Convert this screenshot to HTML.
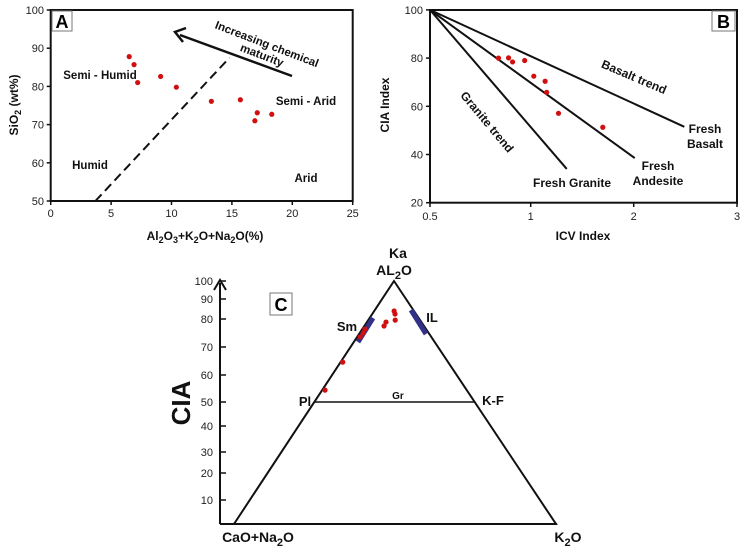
<!DOCTYPE html>
<html><head><meta charset="utf-8"><style>
html,body{margin:0;padding:0;background:#fff;}
svg{display:block;font-family:"Liberation Sans",Arial,sans-serif;}
.t{font-size:11px;fill:#222;}
.b{font-weight:bold;fill:#111;}
</style></head><body>
<svg id="svg" width="744" height="556" viewBox="0 0 744 556">
<g id="A"></g>
<g id="B"></g>
<g id="C"></g>
</svg>
<script>
// Panel A data
const aX = [6.5,6.9,7.2,9.1,10.4,13.3,15.7,17.1,16.9,18.3];
const aY = [87.8,85.7,81,82.6,79.8,76.1,76.5,73.1,71,72.7];
const aXTicks = [0,5,10,15,20,25];
const aYTicks = [50,60,70,80,90,100];
// Panel B data
const bX = [0.84,0.89,0.91,0.97,1.03,1.14,1.155,1.27,1.70];
const bY = [80,80.1,78.4,79,72.5,70.4,65.8,57.1,51.3];
const bXTicks = [0.5,1,2,3];
const bYTicks = [20,40,60,80,100];
const bTrendEnds = {basalt:[2.49,51.5], andesite:[2.01,38.5], granite:[1.35,34]};
// Panel C data (CIA value, fractional position across triangle)
const cCIA = [54.4,64.6,73.6,75,76.4,77.5,78.9,84,82.5,79.6];
const cFrac = [0.02,0.02,0.04,0.05,0.04,0.33,0.35,0.5,0.52,0.52];
const cTicks = [10,20,30,40,50,60,70,80,90,100];

const NS='http://www.w3.org/2000/svg';
function mk(parent,tag,attrs,text){const e=document.createElementNS(NS,tag);
if(attrs['class']==='b'&&attrs['font-size']===undefined)attrs['font-size']='11.5';
for(const k in attrs)e.setAttribute(k,attrs[k]);if(text!==undefined)e.textContent=text;parent.appendChild(e);return e;}

// ---------- Panel A ----------
const A=document.getElementById('A');
const ax=v=>50.7+v*12.08, ay=v=>201-(v-50)*3.82;
let e=mk(A,'rect',{x:50.7,y:10,width:302,height:191,fill:'none',stroke:'#111','stroke-width':2});

aXTicks.forEach(v=>{e=mk(A,'line',{x1:ax(v),x2:ax(v),y1:201,y2:205,stroke:'#111','stroke-width':1.5});

e=mk(A,'text',{x:ax(v),y:217,'text-anchor':'middle',class:'t'},v);
});
aYTicks.forEach(v=>{e=mk(A,'line',{x1:46.7,x2:50.7,y1:ay(v),y2:ay(v),stroke:'#111','stroke-width':1.5});

e=mk(A,'text',{x:44,y:ay(v)+4,'text-anchor':'end',class:'t'},v);
});
e=mk(A,'line',{x1:ax(3.7),y1:ay(50),x2:ax(14.8),y2:ay(87.5),stroke:'#111','stroke-width':2,'stroke-dasharray':'9,5'});

e=mk(A,'line',{x1:292,y1:76,x2:180,y2:35,stroke:'#111','stroke-width':2.5});

e=mk(A,'polyline',{points:'186,28 175,32 183,42',fill:'none',stroke:'#111','stroke-width':2.5});

aX.forEach((v,i)=>{e=mk(A,'circle',{cx:ax(v),cy:ay(aY[i]),r:2.6,fill:'#d01010'});
});
e=mk(A,'rect',{x:52,y:11,width:20,height:20,fill:'#fff',stroke:'#777','stroke-width':1});

e=mk(A,'text',{x:62,y:28,'text-anchor':'middle','font-size':'18','font-weight':'bold'},'A');

e=mk(A,'text',{x:267,y:48,'text-anchor':'middle',class:'b',transform:'rotate(21 267 44)'},'Increasing chemical');

e=mk(A,'text',{x:262,y:59,'text-anchor':'middle',class:'b',transform:'rotate(21 262 55)'},'maturity');

[['Semi - Humid',100,79],['Semi - Arid',306,105],['Humid',90,169],['Arid',306,182]].forEach(r=>{
e=mk(A,'text',{x:r[1],y:r[2],'text-anchor':'middle',class:'b'},r[0]);
});
e=mk(A,'text',{x:0,y:0,class:'b','text-anchor':'middle',transform:'translate(18 105) rotate(-90)','font-size':'12'});
e.innerHTML='SiO<tspan dy="3" font-size="9">2</tspan><tspan dy="-3"> (wt%)</tspan>';

e=mk(A,'text',{x:205,y:240,class:'b','text-anchor':'middle','font-size':'12'});
e.innerHTML='Al<tspan dy="3" font-size="9">2</tspan><tspan dy="-3">O</tspan><tspan dy="3" font-size="9">3</tspan><tspan dy="-3">+K</tspan><tspan dy="3" font-size="9">2</tspan><tspan dy="-3">O+Na</tspan><tspan dy="3" font-size="9">2</tspan><tspan dy="-3">O(%)</tspan>';


// ---------- Panel B ----------
const B=document.getElementById('B');
function bx(v){ if(v<=1) return 430+(v-0.5)/0.5*100.7; if(v<=2) return 530.7+(v-1)*103; return 633.7+(v-2)*103.3;}
const by=v=>202.7-(v-20)*2.41;
e=mk(B,'rect',{x:430,y:10,width:307,height:192.7,fill:'none',stroke:'#111','stroke-width':2});

bXTicks.forEach(v=>{e=mk(B,'line',{x1:bx(v),x2:bx(v),y1:202.7,y2:207,stroke:'#111','stroke-width':1.5});

e=mk(B,'text',{x:bx(v),y:220,'text-anchor':'middle',class:'t'},v);
});
bYTicks.forEach(v=>{e=mk(B,'line',{x1:426,x2:430,y1:by(v),y2:by(v),stroke:'#111','stroke-width':1.5});

e=mk(B,'text',{x:423,y:by(v)+4,'text-anchor':'end',class:'t'},v);
});
Object.keys(bTrendEnds).forEach(k=>{const p=bTrendEnds[k];
e=mk(B,'line',{x1:bx(0.5),y1:by(100),x2:bx(p[0]),y2:by(p[1]),stroke:'#111','stroke-width':2});
});
bX.forEach((v,i)=>{e=mk(B,'circle',{cx:bx(v),cy:by(bY[i]),r:2.6,fill:'#d01010'});
});
e=mk(B,'rect',{x:712,y:11,width:23,height:20,fill:'#fff',stroke:'#777','stroke-width':1});

e=mk(B,'text',{x:723.5,y:28,'text-anchor':'middle','font-size':'18','font-weight':'bold'},'B');

e=mk(B,'text',{x:634,y:81,'text-anchor':'middle',class:'b','font-size':'12',transform:'rotate(23 634 77)'},'Basalt trend');

e=mk(B,'text',{x:487,y:126,'text-anchor':'middle',class:'b','font-size':'12',transform:'rotate(50 487 122)'},'Granite trend');

[['Fresh',705,133],['Basalt',705,148],['Fresh',658,170],['Andesite',658,185],['Fresh Granite',572,187]].forEach(r=>{
e=mk(B,'text',{x:r[1],y:r[2],'text-anchor':'middle',class:'b','font-size':'12'},r[0]);
});
e=mk(B,'text',{x:0,y:0,class:'b','text-anchor':'middle','font-size':'12',transform:'translate(389 105) rotate(-90)'},'CIA Index');

e=mk(B,'text',{x:583,y:240,class:'b','text-anchor':'middle','font-size':'12'},'ICV Index');


// ---------- Panel C ----------
const C=document.getElementById('C');
const knotV=[0,10,20,30,40,50,60,70,80,90,100];
const knotP=[524,500,473,452,426,402,375,347,319,299,281];
function cy(v){for(let i=1;i<knotV.length;i++){if(v<=knotV[i]){const t=(v-knotV[i-1])/(knotV[i]-knotV[i-1]);return knotP[i-1]+t*(knotP[i]-knotP[i-1]);}}return 281;}
function leftX(y){return 234+(524-y)/243*160;} function rightX(y){return 556-(524-y)/243*162;}
e=mk(C,'line',{x1:220,y1:524,x2:220,y2:283,stroke:'#111','stroke-width':2});

e=mk(C,'polyline',{points:'214,290 220,280 226,290',fill:'none',stroke:'#111','stroke-width':2});

e=mk(C,'line',{x1:220,y1:524,x2:557,y2:524,stroke:'#111','stroke-width':2});

e=mk(C,'polygon',{points:'234,524 394,281 556,524',fill:'none',stroke:'#111','stroke-width':2});

cTicks.forEach(v=>{e=mk(C,'line',{x1:220,x2:226,y1:cy(v),y2:cy(v),stroke:'#111','stroke-width':1.5});

e=mk(C,'text',{x:213,y:cy(v)+4,'text-anchor':'end',class:'t'},v);
});
const y50=cy(50);
e=mk(C,'line',{x1:leftX(y50),x2:rightX(y50),y1:y50,y2:y50,stroke:'#111','stroke-width':1.5});

e=mk(C,'line',{x1:373,y1:318,x2:358,y2:342,stroke:'#33308a','stroke-width':5});

e=mk(C,'line',{x1:411,y1:310,x2:426,y2:334,stroke:'#33308a','stroke-width':5});

cCIA.forEach((v,i)=>{const y=cy(v);const x=leftX(y)+cFrac[i]*(rightX(y)-leftX(y));
e=mk(C,'circle',{cx:x,cy:y,r:2.6,fill:'#d01010'});
});
e=mk(C,'rect',{x:270,y:293,width:22,height:22,fill:'#fff',stroke:'#777','stroke-width':1});

e=mk(C,'text',{x:281,y:311,'text-anchor':'middle','font-size':'18','font-weight':'bold'},'C');

[['Ka',398,258,14],['Sm',347,331,13],['IL',432,322,13],['Pl',305,406,13],['K-F',493,405,13],['Gr',398,399,10]].forEach(r=>{
e=mk(C,'text',{x:r[1],y:r[2],'text-anchor':'middle',class:'b','font-size':r[3]},r[0]);
});
e=mk(C,'text',{x:394,y:275,'text-anchor':'middle',class:'b','font-size':'14'});
e.innerHTML='AL<tspan dy="4" font-size="11">2</tspan><tspan dy="-4">O</tspan>';

e=mk(C,'text',{x:258,y:542,'text-anchor':'middle',class:'b','font-size':'14'});
e.innerHTML='CaO+Na<tspan dy="4" font-size="11">2</tspan><tspan dy="-4">O</tspan>';

e=mk(C,'text',{x:568,y:542,'text-anchor':'middle',class:'b','font-size':'14'});
e.innerHTML='K<tspan dy="4" font-size="11">2</tspan><tspan dy="-4">O</tspan>';

e=mk(C,'text',{x:0,y:0,class:'b','text-anchor':'middle','font-size':'26',transform:'translate(190 403) rotate(-90)'},'CIA');

</script>
</body></html>
